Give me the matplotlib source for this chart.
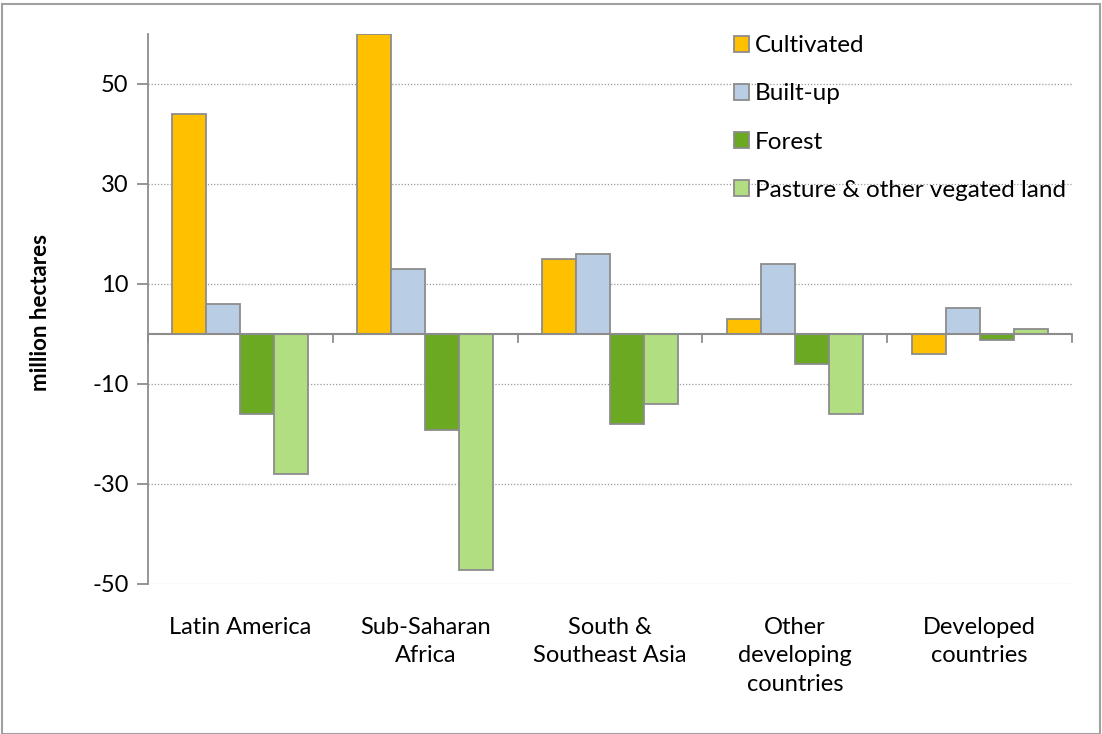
import matplotlib.pyplot as plt
import numpy as np
from matplotlib.patches import Rectangle

plt.rcParams['font.family'] = ['Lato', 'DejaVu Sans']
plt.rcParams['axes.unicode_minus'] = False

regions = ['Latin America', 'Sub-Saharan\nAfrica', 'South &\nSoutheast Asia',
           'Other\ndeveloping\ncountries', 'Developed\ncountries']
cultivated = [44, 60, 15, 3, -4]
built_up = [6, 13, 16, 14, 5.2]
forest = [-16, -19.2, -18, -6, -1.2]
pasture = [-28, -47.2, -14, -16, 1]

series = [('Cultivated', cultivated, '#FFC000'),
          ('Built-up', built_up, '#B9CDE5'),
          ('Forest', forest, '#6BA922'),
          ('Pasture & other vegated land', pasture, '#B2DE82')]

edge = '#8C8C8C'
fig = plt.figure(figsize=(11.02, 7.34), dpi=100)
ax = fig.add_axes([0.1343, 0.2044, 0.8385, 0.7493])

x = np.arange(len(regions))
w = 0.184
for i, (name, vals, col) in enumerate(series):
    ax.bar(x + (i - 1.5) * w, vals, w, color=col, edgecolor=edge,
           linewidth=1.3, label=name, zorder=3)

ax.set_xlim(-0.5, len(regions) - 0.5)
ax.set_ylim(-50, 60)
ax.set_yticks([-50, -30, -10, 10, 30, 50])
ax.tick_params(axis='y', labelsize=17, length=8, width=1.3, color=edge, pad=6)
ax.yaxis.grid(True, linestyle=(0, (1, 1.5)), color='#9A9A9A', linewidth=0.9, zorder=0)

# category axis drawn at zero, with boundary ticks hanging below it
ax.axhline(0, color=edge, linewidth=1.5, zorder=4)
for b in np.arange(len(regions) + 1) - 0.5:
    ax.plot([b, b], [0, -1.6], color=edge, linewidth=1.3, zorder=4, clip_on=False)
ax.set_xticks(x)
ax.set_xticklabels(regions, fontsize=17, linespacing=1.42)
ax.tick_params(axis='x', length=0, pad=24)

for s in ['top', 'right', 'bottom']:
    ax.spines[s].set_visible(False)
ax.spines['left'].set_color(edge)
ax.spines['left'].set_linewidth(1.3)

ax.set_ylabel('million hectares', fontsize=16, fontweight='bold')
ax.yaxis.set_label_coords(-0.105, 0.493)

fig.legend(loc='upper left', bbox_to_anchor=(0.666, 0.952), frameon=False,
           fontsize=17.5, handlelength=0.62, handleheight=0.62,
           handletextpad=0.25, labelspacing=1.12, borderaxespad=0, borderpad=0)

fig.patches.append(Rectangle((0.002, 0.0), 0.996, 0.994, transform=fig.transFigure,
                             fill=False, edgecolor='#A0A0A0', linewidth=1.5))

fig.savefig('out.png', dpi=100)
